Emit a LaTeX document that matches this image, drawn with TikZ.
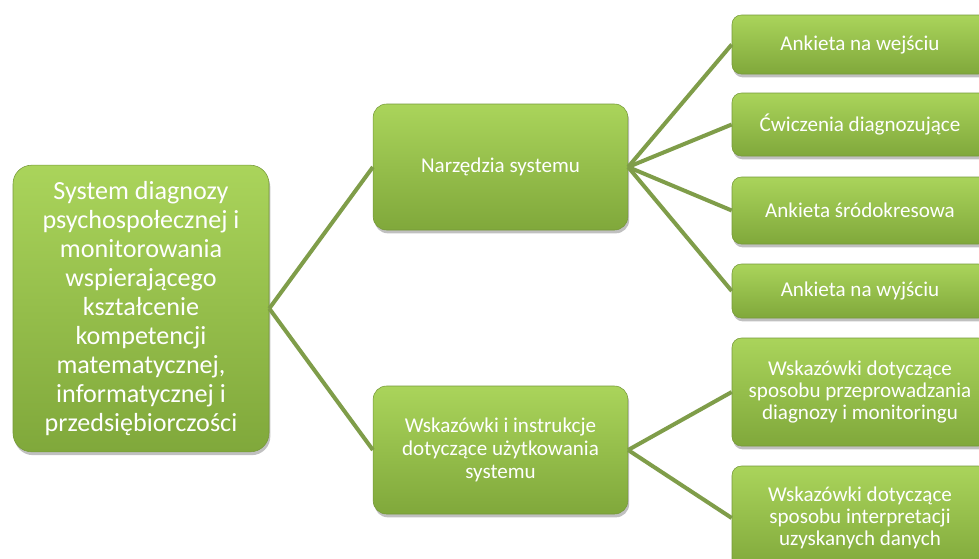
\documentclass[tikz,border=0pt]{standalone}
\usepackage{fontspec}
\setmainfont{Carlito}
\usetikzlibrary{shadows,calc}
\definecolor{gtop}{HTML}{AAD45B}
\definecolor{gbot}{HTML}{80A83B}
\definecolor{gedge}{HTML}{76993A}
\definecolor{conn}{HTML}{7F9D49}
\tikzset{
  box/.style={rounded corners=#1, top color=gtop, bottom color=gbot, draw=gedge, line width=0.4pt,
    text=white, align=center, inner sep=2pt,
    drop shadow={shadow xshift=1pt, shadow yshift=-2.5pt, opacity=0.35, fill=black!70}},
  box/.default=7pt,
  bigtext/.style={font=\fontsize{19.6}{21.8}\selectfont},
  smalltext/.style={font=\fontsize{15.8}{16.6}\selectfont},
  midtext/.style={font=\fontsize{15.8}{17.4}\selectfont},
  conline/.style={draw=conn, line width=3pt},
}
\begin{document}
\begin{tikzpicture}[x=0.75pt,y=-0.75pt]
\useasboundingbox (0,0) rectangle (979,558);
\fill[white] (0,0) rectangle (979,558);
\clip (0,0) rectangle (979,558);

\node[box=14pt, bigtext, minimum width=192pt, minimum height=215pt] (root) at (141,308.5)
 {System diagnozy\\psychospołecznej i\\monitorowania\\wspierającego\\kształcenie\\kompetencji\\matematycznej,\\informatycznej i\\przedsiębiorczości};

\node[box=10pt, midtext, minimum width=191pt, minimum height=94.5pt] (m1) at (500.5,167) {Narzędzia systemu};
\node[box=10pt, midtext, minimum width=191pt, minimum height=96pt] (m2) at (500.5,450)
 {Wskazówki i instrukcje\\dotyczące użytkowania\\systemu};

\node[box, smalltext, minimum width=192pt, minimum height=44.25pt] (r1) at (860,44.5) {Ankieta na wejściu};
\node[box, smalltext, minimum width=192pt, minimum height=47.25pt] (r2) at (860,124.5) {Ćwiczenia diagnozujące};
\node[box, smalltext, minimum width=192pt, minimum height=50.25pt] (r3) at (860,210.5) {Ankieta śródokresowa};
\node[box, smalltext, minimum width=192pt, minimum height=40.5pt] (r4) at (860,291) {Ankieta na wyjściu};
\node[box, smalltext, minimum width=192pt, minimum height=81pt] (r5) at (860,392)
 {Wskazówki dotyczące\\sposobu przeprowadzania\\diagnozy i monitoringu};
\node[box, smalltext, minimum width=192pt, minimum height=78pt] (r6) at (860,518)
 {Wskazówki dotyczące\\sposobu interpretacji\\uzyskanych danych};

\begin{scope}[on background layer/.try]
\end{scope}
\draw[conline] (root.east) -- (m1.west);
\draw[conline] (root.east) -- (m2.west);
\draw[conline] (m1.east) -- (r1.west);
\draw[conline] (m1.east) -- (r2.west);
\draw[conline] (m1.east) -- (r3.west);
\draw[conline] (m1.east) -- (r4.west);
\draw[conline] (m2.east) -- (r5.west);
\draw[conline] (m2.east) -- (r6.west);
\end{tikzpicture}
\end{document}
